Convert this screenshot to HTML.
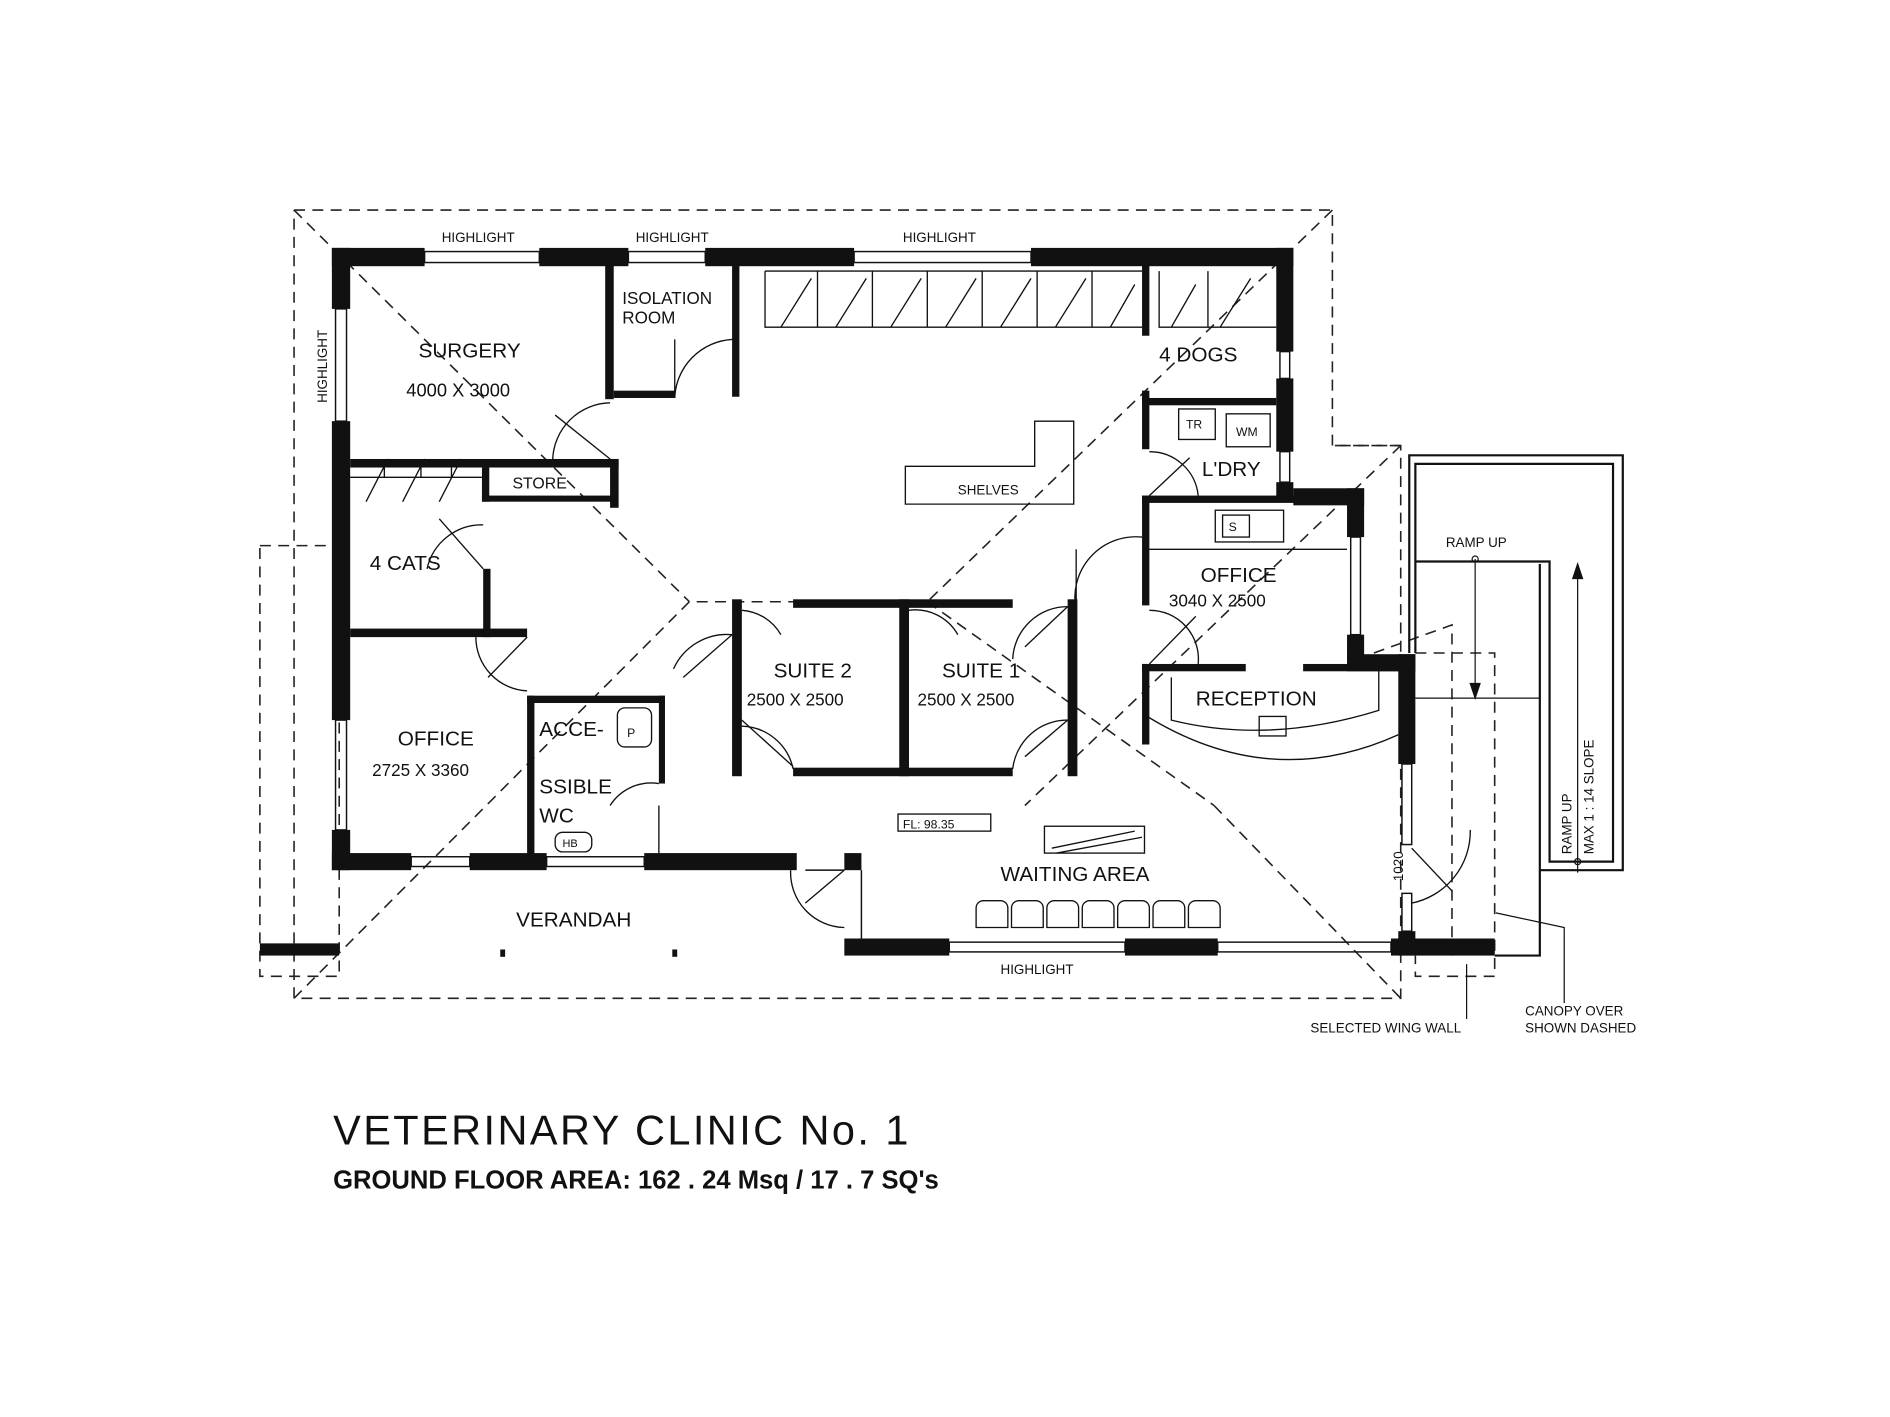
<!DOCTYPE html>
<html><head><style>html,body{margin:0;padding:0;background:#fff}svg{display:block}</style></head>
<body>
<svg width="1890" height="1417" viewBox="0 0 1549 1161" xmlns="http://www.w3.org/2000/svg" font-family="'Liberation Sans',sans-serif">
<rect width="1549" height="1161" fill="#fff"/>
<!-- roof dashed -->
<g fill="none" stroke="#222" stroke-width="1.3" stroke-dasharray="9,6">
<polyline points="241,172 1092,172 1092,365 1148,365 1148,818 241,818 241,172"/>
<line x1="241" y1="172" x2="565" y2="493"/>
<line x1="1092" y1="172" x2="760" y2="493"/>
<line x1="565" y1="493" x2="241" y2="818"/>
<line x1="760" y1="493" x2="565" y2="493"/>
<line x1="1148" y1="365" x2="840" y2="660"/>
<line x1="760" y1="493" x2="995" y2="660"/>
<line x1="995" y1="660" x2="1148" y2="818"/>
<line x1="1148" y1="365" x2="1092" y2="365"/>
<polyline points="1126,535 1190,512 1190,783"/>
<polyline points="1160,535 1225,535 1225,800 1160,800 1160,783"/>
<rect x="213" y="447" width="65" height="353"/>
</g>
<!-- ramp -->
<g fill="none" stroke="#111" stroke-width="1.8">
<polyline points="1155,535 1155,373 1330,373 1330,713 1262,713 1262,462 1262,783 1225,783"/>
<polyline points="1160,535 1160,380 1322,380 1322,706 1270,706 1270,460 1160,460"/>
</g>
<g stroke="#111" stroke-width="1">
<line x1="1160" y1="572" x2="1262" y2="572"/>
<line x1="1209" y1="458" x2="1209" y2="572"/><polygon points="1205,560 1213,560 1209,572" fill="#111"/>
<line x1="1293" y1="462" x2="1293" y2="715"/><polygon points="1289,474 1297,474 1293,462" fill="#111"/>
<circle cx="1209" cy="458" r="2.5" fill="none"/><circle cx="1293" cy="706" r="2.5" fill="none"/>
<polyline points="1226,748 1282,760 1282,822" fill="none"/>
<line x1="1202" y1="790" x2="1202" y2="835"/>
</g>
<!-- walls -->
<g fill="#111">
<rect x="272" y="203" width="76" height="15"/><rect x="442" y="203" width="73" height="15"/><rect x="578" y="203" width="122" height="15"/><rect x="845" y="203" width="215" height="15"/>
<rect x="272" y="203" width="15" height="50"/><rect x="272" y="345" width="15" height="245"/><rect x="272" y="680" width="15" height="33"/>
<rect x="272" y="699" width="65" height="14"/><rect x="385" y="699" width="63" height="14"/><rect x="528" y="699" width="125" height="14"/><rect x="692" y="699" width="14" height="14"/>
<rect x="692" y="769" width="86" height="14"/><rect x="922" y="769" width="76" height="14"/><rect x="1140" y="769" width="85" height="14"/>
<rect x="1046" y="203" width="14" height="85"/><rect x="1046" y="310" width="14" height="60"/><rect x="1046" y="395" width="14" height="12"/>
<rect x="1060" y="400" width="58" height="14"/><rect x="1104" y="400" width="14" height="40"/><rect x="1104" y="520" width="14" height="20"/>
<rect x="1104" y="536" width="56" height="14"/><rect x="1146" y="536" width="14" height="90"/><rect x="1146" y="763" width="14" height="20"/>
<rect x="1160" y="772" width="65" height="10"/>
<rect x="213" y="773" width="65" height="10"/>
<!-- internal -->
<rect x="496" y="217" width="7" height="110"/><rect x="600" y="217" width="6" height="108"/><rect x="503" y="320" width="50" height="6"/>
<rect x="287" y="376" width="220" height="7"/><rect x="500" y="376" width="7" height="40"/><rect x="395" y="383" width="6" height="28"/><rect x="395" y="406" width="110" height="5"/>
<rect x="287" y="515" width="145" height="7"/><rect x="396" y="466" width="6" height="56"/>
<rect x="432" y="570" width="113" height="6"/><rect x="432" y="570" width="6" height="140"/><rect x="540" y="570" width="5" height="72"/>
<rect x="600" y="491" width="8" height="145"/><rect x="650" y="491" width="180" height="7"/><rect x="737" y="491" width="8" height="145"/><rect x="650" y="629" width="180" height="7"/><rect x="875" y="491" width="8" height="145"/>
<rect x="936" y="217" width="6" height="58"/><rect x="936" y="320" width="6" height="48"/><rect x="936" y="326" width="110" height="6"/>
<rect x="936" y="406" width="6" height="90"/><rect x="936" y="406" width="168" height="6"/>
<rect x="936" y="544" width="85" height="6"/><rect x="1068" y="544" width="80" height="6"/><rect x="936" y="544" width="6" height="66"/>
</g>
<!-- windows -->
<g fill="none" stroke="#111" stroke-width="1.2">
<rect x="348" y="206" width="94" height="9"/><rect x="515" y="206" width="63" height="9"/><rect x="700" y="206" width="145" height="9"/>
<rect x="275" y="253" width="9" height="92"/><rect x="275" y="590" width="9" height="90"/>
<rect x="337" y="702" width="48" height="8"/><rect x="448" y="702" width="80" height="8"/>
<rect x="778" y="772" width="144" height="8"/><rect x="998" y="772" width="142" height="8"/>
<rect x="1149" y="626" width="8" height="66"/><rect x="1149" y="732" width="8" height="31"/>
<rect x="1107" y="440" width="8" height="80"/><rect x="1049" y="370" width="8" height="25"/><rect x="1049" y="288" width="8" height="22"/>
<line x1="660" y1="713" x2="692" y2="713"/><line x1="706" y1="713" x2="706" y2="769"/>
</g>
<!-- doors -->
<g fill="none" stroke="#111" stroke-width="1.1">
<path d="M553,326 A50,50 0 0 1 600,278"/><line x1="553" y1="326" x2="553" y2="278"/>
<path d="M453,376 A48,48 0 0 1 500,330"/><line x1="500" y1="376" x2="455" y2="340"/>
<path d="M350,466 A46,46 0 0 1 396,430"/><line x1="396" y1="466" x2="360" y2="425"/>
<path d="M390,522 A44,44 0 0 0 432,566"/><line x1="432" y1="522" x2="400" y2="555"/>
<path d="M500,660 A40,40 0 0 1 540,642"/><line x1="540" y1="699" x2="540" y2="660"/>
<path d="M552,548 A48,48 0 0 1 600,520"/><line x1="600" y1="520" x2="560" y2="555"/>
<path d="M608,595 A44,44 0 0 1 650,630"/><line x1="608" y1="590" x2="650" y2="628"/>
<path d="M830,540 A45,45 0 0 1 875,497"/><line x1="875" y1="497" x2="840" y2="530"/>
<path d="M830,630 A45,45 0 0 1 875,590"/><line x1="875" y1="590" x2="840" y2="620"/>
<path d="M745,500 A40,40 0 0 1 785,520"/><path d="M608,500 A40,40 0 0 1 640,520"/>
<path d="M882,500 A50,50 0 0 1 936,440"/><line x1="882" y1="498" x2="882" y2="450"/>
<path d="M942,370 A40,40 0 0 1 982,406"/><line x1="942" y1="406" x2="975" y2="375"/>
<path d="M942,500 A40,40 0 0 1 982,544"/><line x1="942" y1="544" x2="980" y2="505"/>
<path d="M648,713 A45,45 0 0 0 692,760"/><line x1="692" y1="713" x2="660" y2="740"/>
<path d="M1157,740 A60,60 0 0 0 1205,680"/><line x1="1157" y1="695" x2="1190" y2="730"/>
<path d="M937,585 Q1040,650 1146,602"/><path d="M960,555 L960,590 Q1040,610 1130,582 L1130,550"/>
<rect x="1032" y="587" width="22" height="16"/>
</g>
<!-- kennels -->
<g fill="none" stroke="#111" stroke-width="1.1">
<polyline points="627,222 627,268 936,268"/><line x1="627" y1="222" x2="936" y2="222"/>
<path d="M670,222 v46 M715,222 v46 M760,222 v46 M805,222 v46 M850,222 v46 M895,222 v46"/>
<path d="M640,268 l25,-40 M685,268 l25,-40 M730,268 l25,-40 M775,268 l25,-40 M820,268 l25,-40 M865,268 l25,-40 M910,268 l20,-35"/>
<polyline points="950,222 950,268 1046,268"/><path d="M990,222 v46 M960,268 l20,-35 M1000,268 l25,-40"/>
<path d="M287,391 H395 M315,391 v-15 M345,391 v-15 M370,391 v-15 M300,411 l18,-35 M330,411 l18,-35 M360,411 l18,-35"/>
<polygon points="742,382 848,382 848,345 880,345 880,413 742,413"/>
<rect x="966" y="335" width="30" height="25"/><rect x="1005" y="339" width="36" height="27"/>
<rect x="996" y="418" width="56" height="26"/><rect x="1002" y="422" width="22" height="18"/>
<rect x="736" y="667" width="76" height="14"/>
<rect x="856" y="677" width="82" height="22"/><path d="M862,695 L930,681 M866,699 L936,686"/>
<rect x="506" y="580" width="28" height="32" rx="6"/><rect x="455" y="682" width="30" height="16" rx="6"/>
<path d="M800,760 v-16 a6,6 0 0 1 6,-6 h14 a6,6 0 0 1 6,6 v16 z M829,760 v-16 a6,6 0 0 1 6,-6 h14 a6,6 0 0 1 6,6 v16 z M858,760 v-16 a6,6 0 0 1 6,-6 h14 a6,6 0 0 1 6,6 v16 z M887,760 v-16 a6,6 0 0 1 6,-6 h14 a6,6 0 0 1 6,6 v16 z M916,760 v-16 a6,6 0 0 1 6,-6 h14 a6,6 0 0 1 6,6 v16 z M945,760 v-16 a6,6 0 0 1 6,-6 h14 a6,6 0 0 1 6,6 v16 z M974,760 v-16 a6,6 0 0 1 6,-6 h14 a6,6 0 0 1 6,6 v16 z"/>
<line x1="942" y1="450" x2="1104" y2="450"/>
</g>
<rect x="410" y="778" width="4" height="6" fill="#111"/><rect x="551" y="778" width="4" height="6" fill="#111"/>
<!-- text -->
<g fill="#111" font-size="17">
<text x="343" y="293">SURGERY</text><text x="333" y="325" font-size="15">4000 X 3000</text>
<text x="510" y="249" font-size="14">ISOLATION</text><text x="510" y="265" font-size="14">ROOM</text>
<text x="950" y="296">4 DOGS</text><text x="985" y="390">L'DRY</text>
<text x="420" y="400" font-size="13">STORE</text><text x="785" y="405" font-size="11">SHELVES</text>
<text x="303" y="467">4 CATS</text>
<text x="326" y="611">OFFICE</text><text x="305" y="636" font-size="14">2725 X 3360</text>
<text x="442" y="603">ACCE-</text><text x="442" y="650">SSIBLE</text><text x="442" y="674">WC</text>
<text x="634" y="555">SUITE 2</text><text x="612" y="578" font-size="14">2500 X 2500</text>
<text x="772" y="555">SUITE 1</text><text x="752" y="578" font-size="14">2500 X 2500</text>
<text x="984" y="477">OFFICE</text><text x="958" y="497" font-size="14">3040 X 2500</text>
<text x="980" y="578">RECEPTION</text>
<text x="820" y="722">WAITING AREA</text><text x="423" y="759">VERANDAH</text>
<text x="740" y="679" font-size="10">FL: 98.35</text>
<text x="972" y="351" font-size="10">TR</text><text x="1013" y="357" font-size="10">WM</text><text x="1007" y="435" font-size="10">S</text>
<text x="514" y="604" font-size="10">P</text><text x="461" y="694" font-size="9">HB</text>
<g font-size="11"><text x="362" y="198">HIGHLIGHT</text><text x="521" y="198">HIGHLIGHT</text><text x="740" y="198">HIGHLIGHT</text><text x="820" y="798">HIGHLIGHT</text>
<text x="1185" y="448">RAMP UP</text><text x="1074" y="846">SELECTED WING WALL</text><text x="1250" y="832">CANOPY OVER</text><text x="1250" y="846">SHOWN DASHED</text>
<text transform="translate(268,330) rotate(-90)">HIGHLIGHT</text><text transform="translate(1150,722) rotate(-90)">1020</text>
<text transform="translate(1288,700) rotate(-90)">RAMP UP</text><text transform="translate(1306,700) rotate(-90)">MAX 1 : 14 SLOPE</text></g>
<text x="273" y="938" font-size="34" letter-spacing="2">VETERINARY CLINIC No. 1</text>
<text x="273" y="974" font-size="21" font-weight="bold">GROUND FLOOR AREA: 162 . 24 Msq / 17 . 7 SQ's</text>
</g>
</svg>
</body></html>
